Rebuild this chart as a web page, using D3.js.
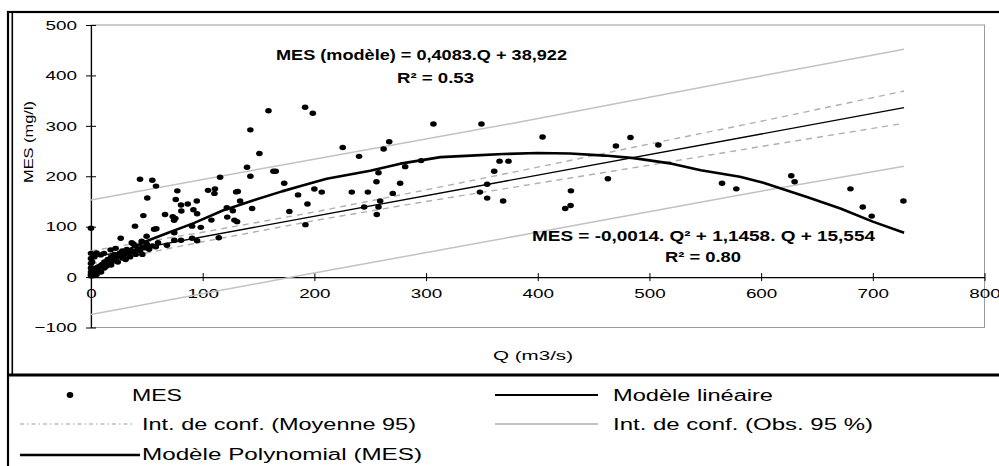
<!DOCTYPE html>
<html><head><meta charset="utf-8">
<script src="https://cdn.jsdelivr.net/npm/d3@7"></script>
<style>
body{margin:0;background:#fff}
svg{display:block;font-family:"Liberation Sans",Arial,sans-serif}
</style>
</head><body>
<svg id="c" width="999" height="466"></svg>
<script>
// ---- data ----
const mesQ = [0,0,0,0,0,0,0,0,1,2,3,3,4,5,5,6,8,8.7,9,10,11.6,12,12,14,15,16,17.6,18,18,20,21,22,22,24,25,26,26.6,28,28,30,31,32,34,35,36.5,37.9,38,39.4,40,40,42,44,45.4,46,46,48,49.8,50,52,55,58,60,
  43.9,54.9,58.2,50.4,46.9,58.5,56.5,66.3,68,73.2,75.5,74.4,74.6,74.6,80.6,90.5,95,77.3,75.9,86.6,80.6,80.9,94.7,91.7,95,90.5,98.3,
  104.8,111,110.5,107.8,114.4,115.6,122,121.6,127,128.4,130.8,130,131.4,133.5,139.7,142.7,142.7,144.3,150.8,158.9,163.3,165.4,173,177.6,185.4,
  192,193.8,200,206.6,225.4,233.5,240,244.6,247.9,255.6,255.9,257.4,257.4,258.9,262,267,270.2,276.8,281.3,295.6,348.2,354.7,354.7,361,365.8,369,373.8,
  191.7,198.6,306.6,349.6,404.3,429.7,424.6,429.4,462.8,470,483,508,565,577.8,627,630,680,691,699,727.4];
const mesVal = [2,5,10,18,27,37,47,97,30,3,8,40,15,5,48,12,20,44,10,25,47,18,30,22,35,28,54,24,40,32,45,57,36,30,42,48,77,38,52,45,35,55,48,40,68,65.5,50,101,45,62,55,52,71,45,60,58,81,65,55,62,60,68,
  194,192,180.5,157,122,96,95,124,63,120,116.5,112.5,88,73,73,77,72,171,154,145,143,131,151,133.5,125.6,101,98.6,
  172,175,166,113,78,198,119,137.5,131.5,113,110,169,170,151,218,292,200,136,245,330,210,210,186,130,163,
  104,145,174.6,168.6,257,168.6,239.5,139,168.6,189,124,207,139,151,254,268.5,166,186,219,231,168.6,184,156.7,210,230,151,230,
  337,325,303.6,303.6,278,171,136,142,195,260,277,262,186,175,201,189,175,139,121,151];

const linQ = [0, 728];
const linMES = [39, 336];

const polyQ   = [0,24,47,68,92,118,145,171,187,211,250,277,313,340,369,400,429,460,486,520,546,581,602,641,671,700,728];
const polyMES = [16,44,69,87,107,132,152,170,180,195,211,225,238,241,244,246,245,241,236,225,212,199,187,159,136,110,88];

const ciQ  = [0,100,200,300,400,500,600,728];
const ciUp = [52,89,129,173,218,264,309,369];
const ciLo = [26,70,112,150,186,222,259,305];

const obsQ  = [0,180,385,581,728];
const obsUp = [153,226,308,391,452];
const obsLo = [-74,0,83,163,220];

const xTicks = [0,100,200,300,400,500,600,700,800];
const yTicks = [-100,0,100,200,300,400,500];

const eqLin = "MES (modèle) = 0,4083.Q + 38,922";
const r2Lin = "R² = 0.53";
const eqPoly = "MES = -0,0014. Q² + 1,1458. Q + 15,554";
const r2Poly = "R² = 0.80";
const xTitle = "Q (m3/s)";
const yTitle = "MES (mg/l)";
const legendLabels = ["MES","Modèle linéaire","Int. de conf. (Moyenne 95)","Int. de conf. (Obs. 95 %)","Modèle Polynomial (MES)"];

// ---- drawing ----
const svg = d3.select("#c");
const x = d3.scaleLinear().domain([0,800]).range([91,984.5]);
const y = d3.scaleLinear().domain([-100,500]).range([327.5,25]);
const STRETCH = 1.45;

// outer frames
svg.append("rect").attr("x",8).attr("y",12).attr("width",1000).attr("height",470)
  .attr("fill","none").attr("stroke","#000").attr("stroke-width",2.2);
svg.append("line").attr("x1",12.3).attr("x2",12.3).attr("y1",12).attr("y2",374)
  .attr("stroke","#000").attr("stroke-width",1.6);
svg.append("line").attr("x1",8).attr("x2",999).attr("y1",375).attr("y2",375)
  .attr("stroke","#000").attr("stroke-width",3);

// plot area border
svg.append("rect").attr("x",x(0)).attr("y",y(500)).attr("width",x(800)-x(0)).attr("height",y(-100)-y(500))
  .attr("fill","none").attr("stroke","#9a9a9a").attr("stroke-width",1);

// axes
const gy = svg.append("g").attr("transform",`translate(${x(0)},0)`)
  .call(d3.axisLeft(y).tickValues(yTicks).tickSizeInner(5).tickSizeOuter(0).tickPadding(9));
gy.selectAll(".tick line").attr("x1",5);
const gx = svg.append("g").attr("transform",`translate(0,${y(0)})`)
  .call(d3.axisBottom(x).tickValues(xTicks).tickSizeInner(4).tickSizeOuter(0).tickPadding(8));
gx.selectAll(".tick line").attr("y1",-4);
[gx,gy].forEach(g=>{
  g.select(".domain").attr("stroke","#000").attr("stroke-width",1.2);
  g.selectAll(".tick line").attr("stroke","#000").attr("stroke-width",1);
  g.selectAll("text").attr("font-size",13).attr("fill","#000")
   .attr("font-family",'"Liberation Sans",Arial,sans-serif');
});
gx.selectAll(".tick text").attr("dy","0.72em");

// lines
const line = d3.line().x(d=>x(d[0])).y(d=>y(d[1]));
const zip = (a,b)=>a.map((v,i)=>[v,b[i]]);

svg.append("path").datum(zip(obsQ,obsUp)).attr("d",line).attr("fill","none").attr("stroke","#c2c2c2").attr("stroke-width",1.5);
svg.append("path").datum(zip(obsQ,obsLo)).attr("d",line).attr("fill","none").attr("stroke","#c2c2c2").attr("stroke-width",1.5);
svg.append("path").datum(zip(ciQ,ciUp)).attr("d",line).attr("fill","none").attr("stroke","#b0b0b0").attr("stroke-width",1.4).attr("stroke-dasharray","6,5");
svg.append("path").datum(zip(ciQ,ciLo)).attr("d",line).attr("fill","none").attr("stroke","#b0b0b0").attr("stroke-width",1.4).attr("stroke-dasharray","6,5");
svg.append("path").datum(zip(linQ,linMES)).attr("d",line).attr("fill","none").attr("stroke","#000").attr("stroke-width",1.3);

// points
svg.append("g").selectAll("ellipse").data(zip(mesQ,mesVal)).join("ellipse")
  .attr("cx",d=>x(d[0])).attr("cy",d=>y(d[1])).attr("rx",3.3).attr("ry",2.7).attr("fill","#000");

svg.append("path").datum(zip(polyQ,polyMES)).attr("d",line).attr("fill","none").attr("stroke","#000").attr("stroke-width",2.6).attr("stroke-linejoin","round");

// equations
function txt(s,xx,yy,size,weight,len,anchor){
  const t = svg.append("text").attr("x",xx).attr("y",yy).attr("font-size",size)
    .attr("font-weight",weight).attr("fill","#000").text(s);
  if(anchor) t.attr("text-anchor",anchor);
  if(len) t.attr("textLength",len).attr("lengthAdjust","spacingAndGlyphs");
  return t;
}
txt(eqLin,276,60,15,"bold",291);
txt(r2Lin,397,83,15,"bold",77);
txt(eqPoly,532,241,15,"bold",343);
txt(r2Poly,665,262,15,"bold",76);

// axis titles
txt(xTitle,493,360,13,"normal",80);
svg.append("text").attr("transform","translate(33,142) rotate(-90)").attr("text-anchor","middle")
  .attr("font-size",13.5).attr("fill","#000").attr("textLength",82).attr("lengthAdjust","spacingAndGlyphs").text(yTitle);

// stretch tick labels
svg.selectAll(".tick text").each(function(){
  const l = this.getComputedTextLength();
  d3.select(this).attr("textLength",l*STRETCH).attr("lengthAdjust","spacingAndGlyphs");
});

// legend
svg.append("ellipse").attr("cx",70).attr("cy",395).attr("rx",3.3).attr("ry",2.9).attr("fill","#000");
txt(legendLabels[0],132,401,16,"normal",50);
svg.append("line").attr("x1",495).attr("x2",598).attr("y1",395).attr("y2",395).attr("stroke","#000").attr("stroke-width",2);
txt(legendLabels[1],613,401,16,"normal",160);
svg.append("line").attr("x1",20).attr("x2",132).attr("y1",424).attr("y2",424).attr("stroke","#bdbdbd").attr("stroke-width",1.5).attr("stroke-dasharray","4,3,1.5,3");
txt(legendLabels[2],142,430,16,"normal",274);
svg.append("line").attr("x1",495).attr("x2",598).attr("y1",424).attr("y2",424).attr("stroke","#c2c2c2").attr("stroke-width",2);
txt(legendLabels[3],613,430,16,"normal",260);
svg.append("line").attr("x1",20).attr("x2",140).attr("y1",455).attr("y2",455).attr("stroke","#000").attr("stroke-width",2.6);
txt(legendLabels[4],142,460,16,"normal",280);
</script>
</body></html>
